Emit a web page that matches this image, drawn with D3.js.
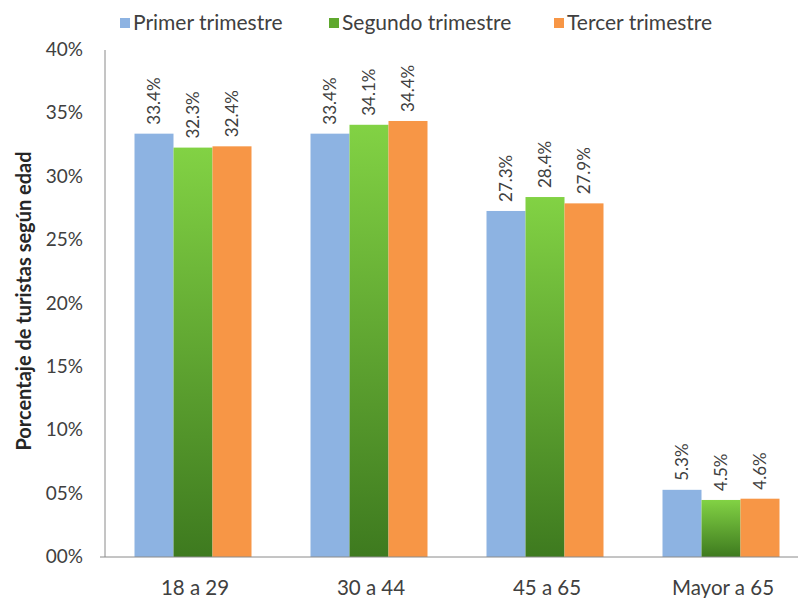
<!DOCTYPE html>
<html><head><meta charset="utf-8">
<script src="https://cdn.jsdelivr.net/npm/d3@7"></script>
<style>body{margin:0;background:#fff}svg{display:block}</style>
</head><body>
<svg id="c" width="798" height="598"></svg>
<script>
const categories = ["18 a 29", "30 a 44", "45 a 65", "Mayor a 65"];
const seriesNames = ["Primer trimestre", "Segundo trimestre", "Tercer trimestre"];
const primer = [33.4, 33.4, 27.3, 5.3];
const segundo = [32.3, 34.1, 28.4, 4.5];
const tercer = [32.4, 34.4, 27.9, 4.6];
const yTicks = [0, 5, 10, 15, 20, 25, 30, 35, 40];
const yTickLabels = ["00%", "05%", "10%", "15%", "20%", "25%", "30%", "35%", "40%"];
const yTitle = "Porcentaje de turistas según edad";

(function(){
const series = [primer, segundo, tercer];
const fills = ["#8db3e2", "url(#gGreen)", "#f79646"];
const legendColors = ["#8db3e2", "#5fa82e", "#f79646"];

const svg = d3.select("#c");
const font = "Lato, 'Open Sans', sans-serif";
const defs = svg.append("defs");
const g1 = defs.append("linearGradient").attr("id","gGreen").attr("x1",0).attr("y1",0).attr("x2",0).attr("y2",1);
g1.append("stop").attr("offset","0%").attr("stop-color","#82d244");
g1.append("stop").attr("offset","100%").attr("stop-color","#3e7a1f");

const mLeft = 105, mBottom = 557, mTop = 50;
const x0 = d3.scaleBand().domain(categories).range([mLeft, mLeft + 4*176]);
const x1 = d3.scaleBand().domain([0,1,2]).range([0, 117]);
const y = d3.scaleLinear().domain([0, 40]).range([mBottom, mTop]);

categories.forEach((c, ci) => {
  const gx = x0(c) + (x0.bandwidth() - 117) / 2;
  series.forEach((s, si) => {
    const v = s[ci];
    const bx = gx + x1(si);
    svg.append("rect").attr("x", bx).attr("y", y(v)).attr("width", x1.bandwidth()).attr("height", y(0) - y(v)).attr("fill", fills[si]);
    svg.append("text")
      .attr("transform", `translate(${bx + x1.bandwidth()/2 + 6},${y(v) - 9}) rotate(-90)`)
      .attr("font-family", font).attr("font-size", 17).attr("fill", "#404040")
      .text(v.toFixed(1) + "%");
  });
});

svg.append("line").attr("x1", mLeft).attr("x2", mLeft).attr("y1", y(40)).attr("y2", y(0)).attr("stroke", "#8a8a8a");
svg.append("line").attr("x1", mLeft - 5).attr("x2", 798).attr("y1", y(0)).attr("y2", y(0)).attr("stroke", "#8a8a8a");
yTicks.forEach((t, i) => {
  svg.append("text").attr("x", 83).attr("y", y(t) + 6).attr("text-anchor", "end")
    .attr("font-family", font).attr("font-size", 19).attr("fill", "#404040").text(yTickLabels[i]);
});
categories.forEach(c => {
  svg.append("text").attr("x", x0(c) + x0.bandwidth()/2 + 2).attr("y", 595).attr("text-anchor", "middle")
    .attr("font-family", font).attr("font-size", 20.5).attr("fill", "#404040").text(c);
});
svg.append("text").attr("transform", `translate(31,301) rotate(-90)`).attr("text-anchor", "middle")
  .attr("font-family", font).attr("font-size", 20).attr("font-weight", "bold").attr("fill", "#262626").text(yTitle);

const legX = [120, 329, 554];
seriesNames.forEach((n, i) => {
  svg.append("rect").attr("x", legX[i]).attr("y", 18).attr("width", 10).attr("height", 10).attr("fill", legendColors[i]);
  svg.append("text").attr("x", legX[i] + 13).attr("y", 30).attr("font-family", font).attr("font-size", 21).attr("fill", "#404040").text(n);
});
})();
</script>
</body></html>
